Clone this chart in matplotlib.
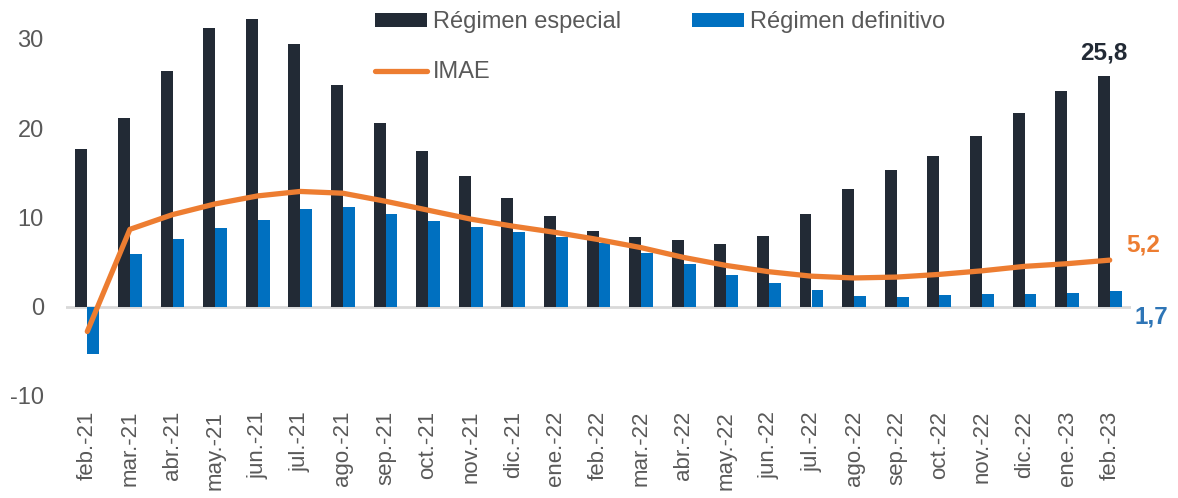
import matplotlib
matplotlib.use("Agg")
import matplotlib.pyplot as plt
import numpy as np

categories = ["feb.-21", "mar.-21", "abr.-21", "may.-21", "jun.-21", "jul.-21", "ago.-21",
              "sep.-21", "oct.-21", "nov.-21", "dic.-21", "ene.-22", "feb.-22", "mar.-22",
              "abr.-22", "may.-22", "jun.-22", "jul.-22", "ago.-22", "sep.-22", "oct.-22",
              "nov.-22", "dic.-22", "ene.-23", "feb.-23"]
regimen_especial = [17.7, 21.1, 26.4, 31.2, 32.2, 29.4, 24.8, 20.6, 17.4, 14.6, 12.2, 10.2, 8.5,
                    7.8, 7.4, 7.0, 7.9, 10.4, 13.2, 15.3, 16.9, 19.1, 21.7, 24.2, 25.8]
regimen_definitivo = [-5.3, 5.9, 7.6, 8.8, 9.7, 10.9, 11.2, 10.4, 9.6, 8.9, 8.4, 7.8, 7.1,
                      6.0, 4.8, 3.5, 2.6, 1.8, 1.2, 1.1, 1.3, 1.4, 1.4, 1.55, 1.7]
imae = [-2.8, 8.65, 10.3, 11.5, 12.4, 12.9, 12.7, 11.8, 10.8, 9.8, 9.0, 8.3, 7.5, 6.6, 5.5,
        4.6, 3.9, 3.4, 3.2, 3.3, 3.6, 4.0, 4.5, 4.8, 5.2]
yticks = [-10, 0, 10, 20, 30]

c_dark = "#222A35"
c_blue = "#0070C0"
c_orange = "#ED7D31"
c_text = "#595959"

plt.rcParams['font.family'] = ['Liberation Sans', 'DejaVu Sans']

fig = plt.figure(figsize=(11.78, 4.98), dpi=100)
ax = fig.add_axes([66/1178, 1 - 395.7/498, (1131-66)/1178, (395.7-7.7)/498])

x = np.arange(len(categories))
w = 0.28
b1 = ax.bar(x - w/2, regimen_especial, width=w, color=c_dark, label="Régimen especial", zorder=2)
b2 = ax.bar(x + w/2, regimen_definitivo, width=w, color=c_blue, label="Régimen definitivo", zorder=2)
l1, = ax.plot(x, imae, color=c_orange, lw=3.8, solid_capstyle='round', solid_joinstyle='round',
              label="IMAE", zorder=3)

ax.axhline(0, color="#D9D9D9", lw=2, zorder=1)
ax.set_xlim(-0.5, len(categories) - 0.5)
ax.set_ylim(-10, 33.5)
ax.set_yticks(yticks)
ax.set_yticklabels([str(t) for t in yticks])
ax.set_xticks(x)
ax.set_xticklabels(categories, rotation=90)
for s in ax.spines.values():
    s.set_visible(False)
ax.tick_params(axis='both', length=0, colors=c_text)
ax.tick_params(axis='y', pad=16, labelsize=17)
ax.tick_params(axis='x', pad=11, labelsize=16)

# annotations
ax.annotate(f"{regimen_especial[-1]:.1f}".replace(".", ","), (x[-1] - w/2, regimen_especial[-1]),
            xytext=(0, 8.5), textcoords='offset points', ha='center', va='bottom',
            fontsize=17.5, fontweight='bold', color=c_dark)
ax.annotate(f"{imae[-1]:.1f}".replace(".", ","), (x[-1], imae[-1]),
            xytext=(12, 2.5), textcoords='offset points', ha='left', va='bottom',
            fontsize=17.5, fontweight='bold', color=c_orange)
ax.annotate(f"{regimen_definitivo[-1]:.1f}".replace(".", ","), (x[-1], regimen_definitivo[-1]),
            xytext=(17.5, -10), textcoords='offset points', ha='left', va='top',
            fontsize=17.5, fontweight='bold', color="#2E75B6")

leg = fig.legend([b1, l1, b2], ["Régimen especial", "IMAE", "Régimen definitivo"],
                 ncol=2, loc='upper left', bbox_to_anchor=(375/1178, 1 - 11/498),
                 frameon=False, fontsize=17, handlelength=2.2, handleheight=0.55,
                 handletextpad=0.25, columnspacing=3.0, labelspacing=1.2,
                 borderpad=0, borderaxespad=0)
for t in leg.get_texts():
    t.set_color(c_text)

fig.savefig("out.png", dpi=100)
